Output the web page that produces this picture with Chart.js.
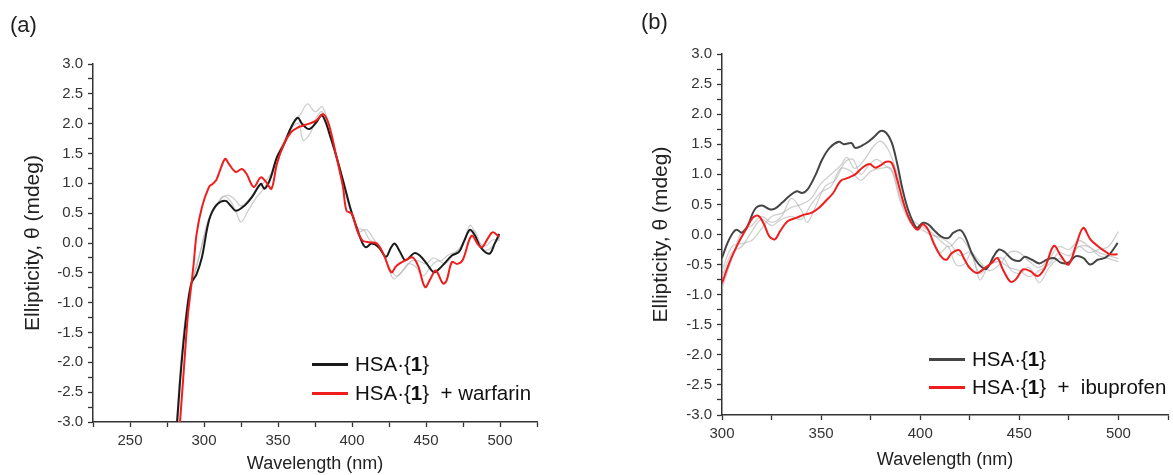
<!DOCTYPE html>
<html>
<head>
<meta charset="utf-8">
<script src="https://cdn.jsdelivr.net/npm/chart.js@4.4.1/dist/chart.umd.min.js"></script>
<style>
  body { margin: 0; background: #fff; font-family: "Liberation Sans", Arial, sans-serif; }
  #wrap { position: relative; width: 1173px; height: 475px; overflow: hidden; }
  .panel { position: absolute; top: 0; height: 475px; }
  .tag { position: absolute; font-size: 22px; color: #222; }
  .leg { position: absolute; font-size: 20.5px; color: #111; white-space: pre; line-height: 22px; }
  .leg i { display: inline-block; width: 36px; height: 3px; vertical-align: middle; margin-right: 7px; position: relative; top: -1px; }
</style>
</head>
<body>
<div id="wrap">
  <div class="panel" style="left:0;width:590px"><canvas id="chartA"></canvas></div>
  <div class="panel" style="left:590px;width:583px"><canvas id="chartB"></canvas></div>
  <div class="tag" style="left:10px;top:12px">(a)</div>
  <div class="tag" style="left:641px;top:9px">(b)</div>
  <div class="leg" style="left:312px;top:353px"><i style="background:#1a1a1a"></i>HSA·{<b>1</b>}</div>
  <div class="leg" style="left:312px;top:382px"><i style="background:#f01d1d"></i>HSA·{<b>1</b>}  + warfarin</div>
  <div class="leg" style="left:929px;top:348px"><i style="background:#454545"></i>HSA·{<b>1</b>}</div>
  <div class="leg" style="left:929px;top:376px"><i style="background:#f01d1d"></i>HSA·{<b>1</b>}  +  ibuprofen</div>
</div>
<script>
// panel (a): wavelength (nm), ellipticity (mdeg)
const aHsa = [[281.8,-3.0],[284.6,-2.08],[288,-1.24],[291.4,-0.68],[295,-0.52],[298.6,-0.24],[303.4,0.38],[308.2,0.63],[314.3,0.71],
  [317.9,0.63],[321.5,0.54],[327.5,0.63],[332.4,0.77],[338.4,0.99],[340.8,0.91],[344.4,1.05],[349.3,1.44],[354.1,1.66],[358.9,1.94],
  [363.3,2.10],[366.2,2.0],[371,1.91],[375.8,2.02],[379.4,2.14],[381.8,2.05],[385.5,1.77],[390.3,1.38],[395.1,0.94],[398.7,0.60],
  [402.3,0.32],[407.2,-0.01],[409.6,-0.07],[413.2,-0.01],[418,-0.07],[422.9,-0.23],[426.5,-0.07],[428.9,-0.01],[432.5,-0.15],
  [436.1,-0.29],[442.2,-0.17],[445.8,-0.21],[450.6,-0.35],[455.4,-0.49],[460.3,-0.40],[467.5,-0.21],[472.3,-0.15],[475.9,0.04],
  [479.6,0.22],[483.2,0.12],[486.8,-0.07],[492.8,-0.18],[496.4,-0.01],[499.5,0.15]];
const aWarfarin = [[283.8,-3.0],[286.5,-2.08],[289,-1.24],[291,-0.8],[293,-0.35],[295,0.15],[298.6,0.60],[303.4,0.94],[305.8,0.99],
  [308.2,1.05],[310.7,1.21],[314.3,1.41],[316.7,1.33],[321.5,1.19],[325.6,1.24],[328.7,1.16],[333.6,0.94],[338.4,1.10],[342,1.02],
  [345.6,0.91],[349.3,1.33],[354.1,1.66],[358.9,1.86],[363.7,1.94],[367.3,1.97],[371,2.0],[375.8,2.05],[380.6,2.16],[384.2,2.0],
  [389.1,1.49],[393.9,0.94],[396.3,0.54],[399.9,0.49],[403.5,0.21],[407.2,0.04],[412,0.01],[416.8,-0.01],[421.7,-0.21],[426.5,-0.49],
  [430.1,-0.38],[436.1,-0.29],[440.9,-0.24],[444.6,-0.38],[449.4,-0.74],[453,-0.60],[456.6,-0.46],[461.5,-0.68],[463.9,-0.63],
  [467.5,-0.32],[471.1,-0.35],[474.7,-0.29],[480.8,0.12],[485.6,-0.04],[488,-0.07],[491.6,0.07],[495.2,0.18],[499.5,0.10]];
const aRep1 = [[282.5,-3.0],[286,-1.6],[290,-0.8],[295,-0.4],[300,0.1],[305,0.5],[310,0.7],[315,0.8],[320,0.75],[325,0.62],[330,0.72],
  [335,0.88],[340,1.0],[345,1.15],[350,1.5],[355,1.75],[360,2.0],[365,2.15],[370,2.33],[375,2.2],[380,2.28],[385,1.9],[390,1.4],
  [395,0.9],[400,0.45],[405,0.2],[410,0.22],[415,0.05],[420,-0.1],[425,-0.4],[430,-0.55],[435,-0.45],[440,-0.3],[445,-0.3],
  [450,-0.35],[455,-0.25],[460,-0.3],[465,-0.2],[470,-0.15],[475,0.0],[480,0.3],[485,0.05],[490,-0.05],[495,0.05],[500,0.05]];
const aRep2 = [[281.5,-3.0],[285,-1.8],[289,-1.0],[293,-0.55],[298,-0.1],[303,0.4],[308,0.6],[313,0.78],[318,0.7],[322,0.5],[325,0.35],
  [330,0.55],[335,0.75],[340,0.9],[345,1.1],[350,1.4],[355,1.7],[360,1.95],[364,2.0],[367,1.72],[372,1.85],[376,2.1],[380,2.2],
  [385,1.85],[390,1.35],[395,0.9],[400,0.5],[404,0.25],[408,0.22],[412,0.05],[418,-0.05],[423,-0.3],[428,-0.6],[433,-0.5],
  [438,-0.35],[443,-0.4],[448,-0.55],[453,-0.4],[458,-0.3],[463,-0.35],[468,-0.2],[473,-0.1],[478,0.15],[483,0.2],[488,-0.1],
  [493,-0.1],[500,0.1]];

// panel (b)
const bHsa = [[300,-0.39],[302.8,-0.14],[305.5,0.03],[307.4,0.08],[310.1,0.03],[312.9,0.14],[316.6,0.42],[320.2,0.48],[323.9,0.42],
  [326.7,0.43],[330.4,0.53],[334,0.64],[337.7,0.72],[340.5,0.69],[343.2,0.75],[346.9,0.97],[350.6,1.25],[354.3,1.44],[358.9,1.54],
  [361.6,1.5],[365.3,1.52],[367.2,1.44],[370.8,1.48],[374.5,1.56],[377.3,1.64],[380,1.72],[382.8,1.69],[385.6,1.53],[388.3,1.19],
  [391.1,0.75],[393.8,0.42],[396.6,0.19],[398.4,0.11],[401.2,0.19],[404,0.17],[406.7,0.08],[410.4,-0.03],[414.1,-0.06],[416.8,0.03],
  [420.5,0.07],[423.3,-0.08],[426,-0.31],[429.7,-0.5],[433.4,-0.57],[437.1,-0.36],[439.8,-0.25],[442.6,-0.29],[446.3,-0.41],
  [450,-0.44],[452.7,-0.37],[456.4,-0.42],[460.1,-0.48],[463.8,-0.42],[467.4,-0.39],[471.1,-0.47],[474.8,-0.47],[478.5,-0.36],
  [482.2,-0.39],[485.8,-0.5],[489.5,-0.42],[493.2,-0.39],[496,-0.31],[499.6,-0.14]];
const bIbuprofen = [[300,-0.81],[303.7,-0.47],[308.3,-0.14],[312,0.08],[315.6,0.28],[318.4,0.31],[321.2,0.17],[323.9,-0.03],[326.7,-0.08],
  [329.4,0.06],[333.1,0.22],[337.7,0.28],[341.4,0.33],[345.1,0.36],[348.8,0.44],[352.4,0.56],[356.1,0.69],[359.8,0.89],[363.5,0.94],
  [367.2,1.0],[370.8,1.11],[374.5,1.17],[377.3,1.11],[380,1.15],[382.8,1.21],[385.6,1.19],[388.3,0.92],[391.1,0.58],[393.8,0.31],
  [396.6,0.14],[398.8,0.08],[401.2,0.17],[404,0.08],[406.7,-0.14],[410.4,-0.36],[413.2,-0.42],[415.9,-0.31],[419.6,-0.26],[422.4,-0.42],
  [425.1,-0.56],[428.8,-0.64],[432.5,-0.56],[436.2,-0.47],[438.9,-0.39],[441.7,-0.58],[445.4,-0.78],[448.1,-0.75],[451.8,-0.58],
  [455.5,-0.61],[459.2,-0.69],[462.8,-0.56],[467.4,-0.19],[471.1,-0.36],[474.8,-0.5],[478.5,-0.19],[482.2,0.11],[485.8,-0.08],
  [489.5,-0.19],[493.2,-0.28],[496,-0.33],[499.6,-0.33]];
const bRep1 = [[300,-0.6],[305,-0.2],[310,-0.15],[315,-0.1],[320,0.1],[325,0.3],[330,0.35],[335,0.45],[340,0.5],[345,0.6],[350,0.85],
  [355,1.0],[360,1.15],[363,1.28],[367,1.1],[372,1.25],[376,1.45],[380,1.55],[384,1.4],[388,1.05],[392,0.6],[396,0.25],[400,0.15],
  [405,0.05],[410,-0.1],[415,-0.2],[420,-0.05],[425,-0.25],[430,-0.45],[435,-0.6],[440,-0.5],[445,-0.3],[450,-0.3],[455,-0.45],
  [460,-0.55],[465,-0.4],[470,-0.2],[475,-0.25],[480,-0.1],[485,-0.2],[490,-0.35],[495,-0.4],[500,-0.45]];
const bRep2 = [[300,-0.9],[305,-0.4],[310,0.05],[315,0.15],[320,0.3],[325,0.2],[330,0.3],[335,0.6],[340,0.4],[343,0.2],[347,0.45],
  [352,0.8],[357,0.9],[362,1.2],[366,1.25],[370,1.0],[374,1.15],[378,1.25],[382,1.15],[386,1.05],[390,0.6],[394,0.3],[398,0.1],
  [402,0.15],[406,-0.05],[410,-0.3],[414,-0.2],[418,-0.5],[422,-0.5],[426,-0.3],[430,-0.75],[434,-0.55],[438,-0.4],[442,-0.4],
  [446,-0.6],[450,-0.65],[455,-0.55],[460,-0.8],[465,-0.55],[470,-0.4],[475,-0.45],[480,-0.2],[485,-0.3],[490,-0.25],[495,-0.2],[500,0.05]];
const bRep3 = [[300,-0.7],[305,-0.3],[310,-0.2],[315,0.05],[320,0.25],[325,0.15],[330,0.25],[335,0.3],[340,0.25],[345,0.5],[350,0.7],
  [355,0.8],[360,1.1],[365,1.05],[370,0.9],[375,1.05],[380,1.1],[385,1.1],[390,0.55],[395,0.2],[400,0.1],[405,0.0],[410,-0.05],
  [415,-0.15],[420,-0.35],[425,-0.3],[430,-0.65],[435,-0.5],[440,-0.45],[445,-0.55],[450,-0.6],[455,-0.7],[460,-0.6],[465,-0.5],
  [470,-0.3],[475,-0.35],[480,-0.2],[485,-0.2],[490,-0.3],[495,-0.35],[500,-0.4]];

const xLabelsA = [250, 300, 350, 400, 450, 500];
const xLabelsB = [300, 350, 400, 450, 500];

const FONT = "'Liberation Sans', Arial, sans-serif";
const RED = "#f01d1d";
const GREY = "rgba(175,175,175,0.6)";

function pts(arr) {
  return arr.map(p => ({ x: p[0], y: p[1] }));
}

function line(data, color, width) {
  return {
    data: pts(data),
    borderColor: color,
    borderWidth: width,
    pointRadius: 0,
    tension: 0.35,
    fill: false
  };
}

function makeChart(id, datasets, cfg) {
  const axisColor = "#333";
  new Chart(document.getElementById(id), {
    type: "line",
    data: { datasets: datasets },
    options: {
      responsive: true,
      maintainAspectRatio: false,
      animation: false,
      events: [],
      layout: { padding: { left: 0, right: cfg.padRight, top: cfg.top, bottom: 0 } },
      plugins: { legend: { display: false }, tooltip: { enabled: false } },
      scales: {
        x: {
          type: "linear",
          min: cfg.xMin,
          max: 525,
          afterFit: s => { s.height = 475 - cfg.bottom; },
          border: { color: axisColor, width: 1.5 },
          grid: { drawOnChartArea: false, tickLength: 5, tickColor: axisColor, tickWidth: 1.3 },
          ticks: {
            stepSize: 25,
            autoSkip: false,
            maxRotation: 0,
            padding: 5,
            color: "#333",
            font: { family: FONT, size: 15 },
            callback: v => cfg.xLabels.includes(v) ? String(v) : ""
          },
          title: {
            display: true,
            text: "Wavelength (nm)",
            color: "#222",
            font: { family: FONT, size: 18 },
            padding: { top: 0, bottom: cfg.xTitlePad }
          }
        },
        y: {
          min: -3,
          max: 3,
          afterFit: s => { s.width = cfg.left; },
          border: { color: axisColor, width: 1.5 },
          grid: { drawOnChartArea: false, tickLength: 5, tickColor: axisColor, tickWidth: 1.3 },
          ticks: {
            stepSize: 0.25,
            maxTicksLimit: 100,
            autoSkip: false,
            padding: 5,
            color: "#333",
            font: { family: FONT, size: 15 },
            callback: v => Math.round(v * 4) % 2 === 0 ? v.toFixed(1) : ""
          },
          title: {
            display: true,
            text: "Ellipticity, θ (mdeg)",
            color: "#222",
            font: { family: FONT, size: 21 },
            padding: { top: cfg.yTitlePad, bottom: 0 }
          }
        }
      }
    }
  });
}

makeChart("chartA", [
  line(aWarfarin, RED, 2),
  line(aHsa, "#1a1a1a", 2),
  line(aRep1, GREY, 1.3),
  line(aRep2, GREY, 1.3)
], { xMin: 225, xLabels: xLabelsA, left: 93, padRight: 590 - 537, top: 64, bottom: 422, xTitlePad: 0, yTitlePad: 21 });

makeChart("chartB", [
  line(bIbuprofen, RED, 2),
  line(bHsa, "#454545", 2),
  line(bRep1, GREY, 1.3),
  line(bRep2, GREY, 1.3),
  line(bRep3, GREY, 1.3)
], { xMin: 300, xLabels: xLabelsB, left: 132, padRight: 4, top: 54, bottom: 415, xTitlePad: 4, yTitlePad: 59 });
</script>
</body>
</html>
